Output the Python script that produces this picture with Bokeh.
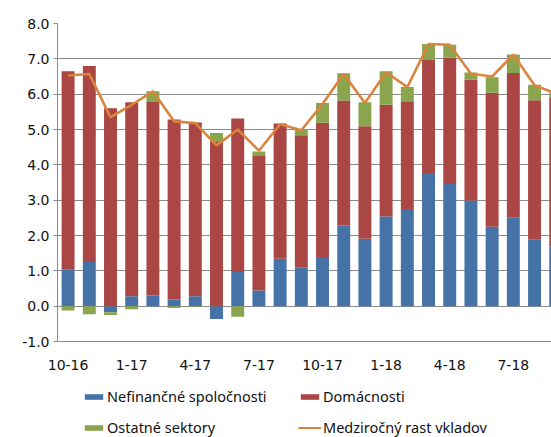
from bokeh.plotting import figure
from bokeh.models import Legend, LegendItem, FixedTicker, Range1d
from bokeh.layouts import column
from bokeh.embed import file_html
from bokeh.resources import INLINE

months = ["10-16", "11-16", "12-16", "1-17", "2-17", "3-17", "4-17", "5-17",
          "6-17", "7-17", "8-17", "9-17", "10-17", "11-17", "12-17", "1-18",
          "2-18", "3-18", "4-18", "5-18", "6-18", "7-18", "8-18", "9-18"]
nefinancne = [1.03, 1.25, -0.17, 0.28, 0.30, 0.19, 0.28, -0.36, 0.97, 0.44, 1.34, 1.10,
              1.39, 2.28, 1.91, 2.54, 2.75, 3.77, 3.46, 2.99, 2.25, 2.52, 1.88, 1.69]
domacnosti = [5.62, 5.55, 5.60, 5.49, 5.48, 5.09, 4.92, 4.67, 4.34, 3.81, 3.83, 3.74,
              3.80, 3.54, 3.18, 3.16, 3.05, 3.20, 3.58, 3.42, 3.79, 4.08, 3.95, 4.21]
ostatne = [-0.12, -0.23, -0.08, -0.09, 0.30, -0.05, -0.02, 0.23, -0.30, 0.13, 0.00, 0.16,
           0.56, 0.77, 0.68, 0.95, 0.40, 0.45, 0.36, 0.20, 0.44, 0.52, 0.44, 0.15]
rast = [6.53, 6.57, 5.35, 5.70, 6.08, 5.23, 5.18, 4.55, 5.00, 4.40, 5.15, 4.98,
        5.72, 6.57, 5.75, 6.62, 6.20, 7.42, 7.40, 6.58, 6.50, 7.12, 6.25, 6.02]
y_ticks = [-1, 0, 1, 2, 3, 4, 5, 6, 7, 8]
x_tick_idx = [0, 3, 6, 9, 12, 15, 18, 21]

names = ["Nefinančné spoločnosti", "Domácnosti", "Ostatné sektory", "Medziročný rast vkladov"]
colors = ["#4572A7", "#AA4643", "#89A54E", "#DB843D"]

n = len(months)
xs = list(range(n))

p = figure(width=551, height=372, output_backend="svg", toolbar_location=None,
           x_range=Range1d(-0.5, 22.8), y_range=Range1d(-1, 8),
           min_border_left=57, min_border_right=0, min_border_top=23, min_border_bottom=30)
p.outline_line_color = None
p.background_fill_color = "white"
p.border_fill_color = "white"

pos = [0.0] * n
neg = [0.0] * n
bar_renderers = []
for vals, col in zip([nefinancne, domacnosti, ostatne], colors[:3]):
    bottoms, tops = [], []
    for i, v in enumerate(vals):
        if v >= 0:
            bottoms.append(pos[i]); tops.append(pos[i] + v); pos[i] += v
        else:
            tops.append(neg[i]); bottoms.append(neg[i] + v); neg[i] += v
    r = p.vbar(x=xs, width=0.61, bottom=bottoms, top=tops, fill_color=col, line_color=None)
    bar_renderers.append(r)

p.line(xs, rast, line_color=colors[3], line_width=2.6)

# axes
p.yaxis.ticker = FixedTicker(ticks=y_ticks)
p.yaxis.major_label_overrides = {t: f"{t:.1f}" for t in y_ticks}
p.yaxis.axis_line_color = "#8c8c8c"
p.yaxis.major_tick_line_color = "#8c8c8c"
p.yaxis.major_tick_out = 4
p.yaxis.major_tick_in = 0
p.yaxis.minor_tick_line_color = None
p.yaxis.major_label_standoff = 4
p.yaxis.major_label_text_font = "DejaVu Sans"
p.yaxis.major_label_text_font_size = "14px"
p.yaxis.major_label_text_color = "#111111"

p.xaxis.ticker = FixedTicker(ticks=x_tick_idx)
p.xaxis.major_label_overrides = {i: months[i] for i in x_tick_idx}
p.xaxis.axis_line_color = "#8c8c8c"
p.xaxis.major_tick_line_color = None
p.xaxis.minor_tick_line_color = None
p.xaxis.major_label_standoff = 12
p.xaxis.major_label_text_font = "DejaVu Sans"
p.xaxis.major_label_text_font_size = "14px"
p.xaxis.major_label_text_color = "#111111"

p.xgrid.grid_line_color = None
p.ygrid.ticker = FixedTicker(ticks=y_ticks)
p.ygrid.grid_line_color = "#8c8c8c"
p.ygrid.grid_line_width = 1

# legend strip: proxy swatch renderers kept outside the visible range
lg = figure(width=551, height=65, output_backend="svg", toolbar_location=None,
            x_range=Range1d(0, 1), y_range=Range1d(0, 1),
            x_axis_type=None, y_axis_type=None,
            min_border_left=0, min_border_right=0, min_border_top=0, min_border_bottom=0)
lg.outline_line_color = None
lg.xgrid.grid_line_color = None
lg.ygrid.grid_line_color = None
sw = [lg.vbar(x=[-5], top=[-5], bottom=[-6], width=0.1, fill_color=c, line_color=None)
      for c in colors[:3]]
sw.append(lg.line(x=[-5, -4], y=[-5, -5], line_color=colors[3], line_width=2))

def make_legend(items, loc):
    return Legend(items=items, location=loc, orientation="vertical",
                  padding=0, margin=0, spacing=11, border_line_color=None,
                  background_fill_alpha=0, glyph_width=23, glyph_height=7,
                  label_standoff=2, label_height=17,
                  label_text_font="Noto Sans", label_text_font_size="14.5px",
                  label_text_color="#111111")

leg_a = make_legend([LegendItem(label=names[0], renderers=[sw[0]]),
                     LegendItem(label=names[2], renderers=[sw[2]])], (25, 0))
leg_b = make_legend([LegendItem(label=names[1], renderers=[sw[1]]),
                     LegendItem(label=names[3], renderers=[sw[3]])], (241, 0))
lg.add_layout(leg_a, "center")
lg.add_layout(leg_b, "center")

page = column(p, lg, spacing=0)
open("out.html", "w").write(file_html(page, INLINE))
